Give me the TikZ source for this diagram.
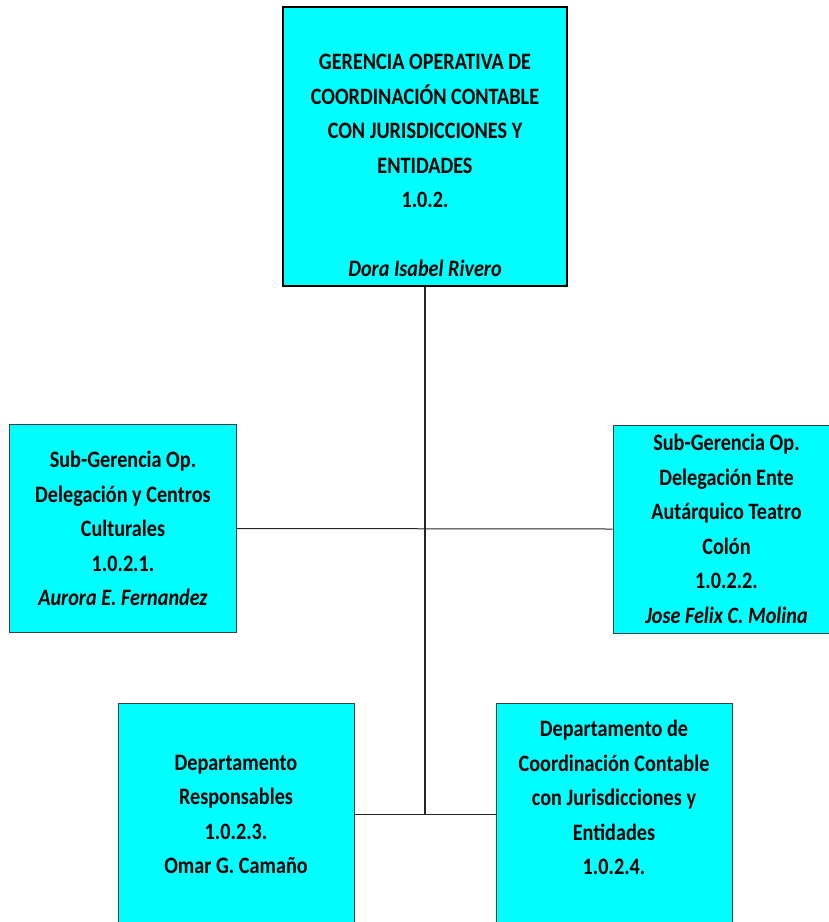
\documentclass[tikz,border=0pt]{standalone}
\usepackage{fontspec}
\setmainfont{Carlito}[FakeStretch=0.86]
\usetikzlibrary{positioning}

\definecolor{celeste}{RGB}{0,255,255}
\newcommand{\vacio}{\rule{0pt}{19pt}}

\begin{document}
\begin{tikzpicture}[x=1pt,y=-1pt,
  unidad/.style={rectangle, fill=celeste, draw=black!75, line width=0.8pt,
    inner sep=0pt, align=center, font=\bfseries\fontsize{23.5}{34.5}\selectfont,
    minimum width=227pt, minimum height=208pt},
  gerencia/.style={unidad, draw=black, line width=2pt,
    minimum width=284pt, minimum height=279pt},
  depto/.style={unidad, minimum width=236pt, minimum height=223pt},
  linea/.style={draw=black!85, line width=1pt}]
  \useasboundingbox (0,0) rectangle (829,922);
  \clip (0,0) rectangle (829,922);

  % gerencia
  \node[gerencia] (ger) at (425,146.5)
    {\vacio\\GERENCIA OPERATIVA DE\\COORDINACIÓN CONTABLE\\CON JURISDICCIONES Y\\ENTIDADES\\1.0.2.\\\vacio\\\textit{Dora Isabel Rivero}};

  % sub-gerencias
  \node[unidad] (subcc) at (123,528.5)
    {Sub-Gerencia Op.\\Delegación y Centros\\Culturales\\1.0.2.1.\\\textit{Aurora E. Fernandez}};
  \node[unidad] (subtc) at (726.5,529)
    {Sub-Gerencia Op.\\Delegación Ente\\Autárquico Teatro\\Colón\\1.0.2.2.\\\textit{Jose Felix C. Molina}};

  % departamentos
  \node[depto] (dresp) at (236,814.5)
    {Departamento\\Responsables\\1.0.2.3.\\Omar G. Camaño};
  \node[depto] (dcoord) at (614,814.5)
    {Departamento de\\Coordinación Contable\\con Jurisdicciones y\\Entidades\\1.0.2.4.\\\vacio};

  \draw[linea, line width=1.5pt] (ger.south) -- (ger.south |- dresp.east);
  \draw[linea] (subcc.east) -- (subtc.west);
  \draw[linea] (dresp.east) -- (dcoord.west);
\end{tikzpicture}
\end{document}
